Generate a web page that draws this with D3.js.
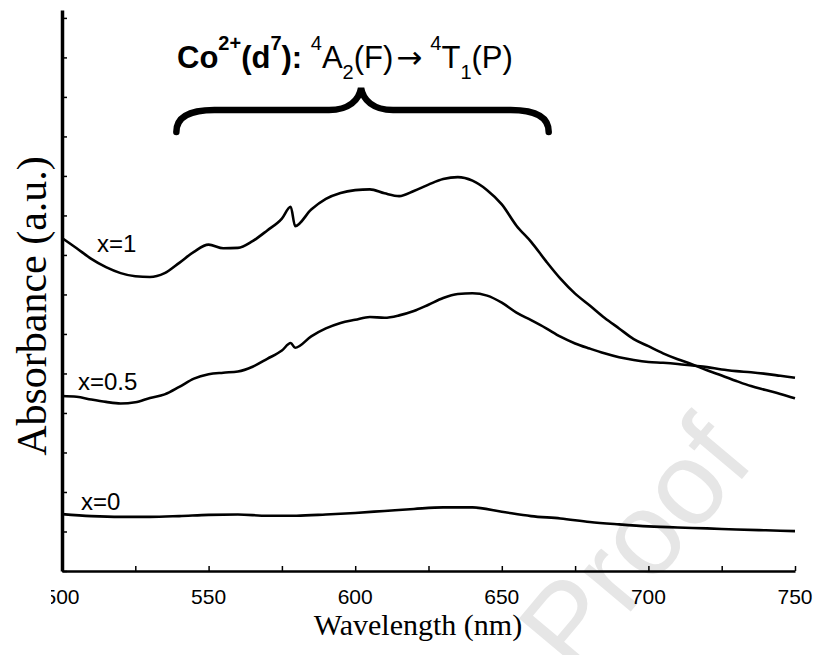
<!DOCTYPE html>
<html><head><meta charset="utf-8">
<script src="https://cdn.jsdelivr.net/npm/d3@7"></script>
<style>body{margin:0;background:#fff}</style>
</head><body>
<svg id="c" width="818" height="655"></svg>
<script>
// ---- data ----
const wlA = [500,505,510,515,520,525,530,535,540,545,550,555,560,565,570,575,578,579.5,585,590,595,600,605,610,615,620,625,630,635,640,645,650,655,660,665,670,675,680,685,690,695,700,705,710,715,720,725,730,735,740,745,750];
const absX1 = [0.843,0.817,0.790,0.769,0.754,0.746,0.744,0.754,0.780,0.808,0.826,0.817,0.818,0.835,0.862,0.892,0.922,0.873,0.915,0.942,0.957,0.964,0.966,0.956,0.949,0.962,0.978,0.992,0.997,0.988,0.964,0.928,0.874,0.833,0.785,0.740,0.702,0.672,0.641,0.614,0.587,0.569,0.551,0.536,0.523,0.508,0.495,0.481,0.468,0.458,0.448,0.437];
const absX05 = [0.443,0.441,0.434,0.428,0.424,0.427,0.438,0.447,0.466,0.487,0.498,0.502,0.505,0.517,0.537,0.558,0.577,0.565,0.594,0.614,0.628,0.636,0.643,0.641,0.647,0.658,0.674,0.691,0.701,0.703,0.697,0.679,0.654,0.635,0.615,0.593,0.576,0.563,0.551,0.541,0.534,0.529,0.527,0.524,0.520,0.516,0.510,0.506,0.503,0.499,0.494,0.489];
const wlB = [500,510,520,530,540,550,560,570,580,590,600,610,620,630,640,650,660,670,680,690,700,710,720,730,740,750];
const absX0 = [0.144,0.139,0.137,0.137,0.139,0.142,0.143,0.140,0.140,0.143,0.147,0.152,0.157,0.161,0.161,0.150,0.139,0.133,0.124,0.118,0.113,0.110,0.108,0.105,0.103,0.101];
const seriesNames = ["x=1","x=0.5","x=0"];
const xTickLabels = [500,550,600,650,700,750];
const xLabel = "Wavelength (nm)";
const yLabel = "Absorbance (a.u.)";
const braceRange = [539, 602, 666];   // wavelength span of the brace (start, tip, end)

// ---- layout ----
const svg = d3.select("#c");
const x = d3.scaleLinear().domain([500,750]).range([62,795]);
const y = d3.scaleLinear().domain([0,1.42]).range([571,10]);
const sans = "'Liberation Sans', Arial, sans-serif";
const serif = "'Liberation Serif', 'Times New Roman', serif";

// watermark
svg.append("text")
  .attr("transform","translate(575,678) rotate(-50)")
  .attr("font-family",sans).attr("font-size",118)
  .attr("fill","#e6e6e6").text("Proof");

// axes
const xAxis = d3.axisBottom(x).tickValues(d3.range(500,751,25)).tickSize(-5).tickSizeOuter(0).tickFormat("");
const gx = svg.append("g").attr("transform",`translate(0,${y(0)})`).call(xAxis);
gx.select(".domain").attr("stroke-width",2.5);
gx.selectAll(".tick line").attr("stroke-width",1.5);

const yAxis = d3.axisLeft(y).tickValues(d3.range(0,1.41,0.1)).tickSize(-5).tickSizeOuter(0).tickFormat("");
const gy = svg.append("g").attr("transform",`translate(${x(500)},0)`).call(yAxis);
gy.select(".domain").attr("stroke-width",3.5);
gy.selectAll(".tick line").attr("stroke-width",1.5);

// tick labels (clipped at left like the reference)
svg.append("clipPath").attr("id","lc").append("rect").attr("x",51).attr("y",0).attr("width",767).attr("height",655);
svg.append("g").attr("clip-path","url(#lc)")
  .selectAll("text").data(xTickLabels).join("text")
  .attr("x",d=>x(d)).attr("y",604).attr("text-anchor","middle")
  .attr("font-family",sans).attr("font-size",21).text(d=>d);

// axis titles
svg.append("text").attr("x",418).attr("y",635).attr("text-anchor","middle")
  .attr("font-family",serif).attr("font-size",30).text(xLabel);
svg.append("text").attr("transform","translate(46,306) rotate(-90)").attr("text-anchor","middle")
  .attr("font-family",serif).attr("font-size",42).text(yLabel);

// curves
const line = d3.line().x(d=>x(d[0])).y(d=>y(d[1])).curve(d3.curveMonotoneX);
const curves = [d3.zip(wlA,absX1), d3.zip(wlA,absX05), d3.zip(wlB,absX0)];
svg.selectAll("path.curve").data(curves).join("path").attr("class","curve")
  .attr("d",line).attr("fill","none").attr("stroke","#000").attr("stroke-width",2.6)
  .attr("stroke-linejoin","round");

// series labels
const labelPos = [[97,252],[78,390],[81,510]];
svg.selectAll("text.lab").data(seriesNames).join("text").attr("class","lab")
  .attr("x",(d,i)=>labelPos[i][0]).attr("y",(d,i)=>labelPos[i][1])
  .attr("font-family",sans).attr("font-size",24).text(d=>d);

// title
const t = svg.append("text").attr("x",177).attr("y",68).attr("font-family",sans).attr("font-size",31)
  .style("white-space","pre");
// [text, dy, bold, size, dx, family]
const parts = [
  ["Co",0,true,31,0],["2+",-18,true,20,0],["(d",18,true,31,0],["7",-18,true,20,0],["): ",18,true,31,0],
  ["4",-18,false,20,0],["A",18,false,31,0],["2",11,false,20,0],["(F)",-11,false,31,0],
  ["\u2192",0,false,31,3,"'DejaVu Sans', sans-serif"],
  ["4",-18,false,20,8],["T",18,false,31,0],["1",11,false,20,0],["(P)",-11,false,31,0]
];
parts.forEach(p=>{
  const s = t.append("tspan").attr("dy",p[1]).attr("dx",p[4]).attr("font-weight",p[2]?"bold":"normal")
    .attr("font-size",p[3]).text(p[0]);
  if(p[5]) s.attr("font-family",p[5]);
});

// brace
const bx0 = x(braceRange[0]), bxm = x(braceRange[1]), bx1 = x(braceRange[2]);
const byEnd = 132, byBar = 110, byTip = 88;
const bp = d3.path();
bp.moveTo(bx0, byEnd);
bp.bezierCurveTo(bx0, byBar+8, bx0+11, byBar, bx0+38, byBar);
bp.lineTo(bxm-32, byBar);
bp.bezierCurveTo(bxm-12, byBar, bxm-2, byBar-10, bxm, byTip);
bp.bezierCurveTo(bxm+2, byBar-10, bxm+12, byBar, bxm+32, byBar);
bp.lineTo(bx1-38, byBar);
bp.bezierCurveTo(bx1-11, byBar, bx1, byBar+8, bx1, byEnd);
svg.append("path").attr("d",bp.toString()).attr("fill","none").attr("stroke","#000")
  .attr("stroke-width",6.5).attr("stroke-linecap","round");
</script>
</body></html>
